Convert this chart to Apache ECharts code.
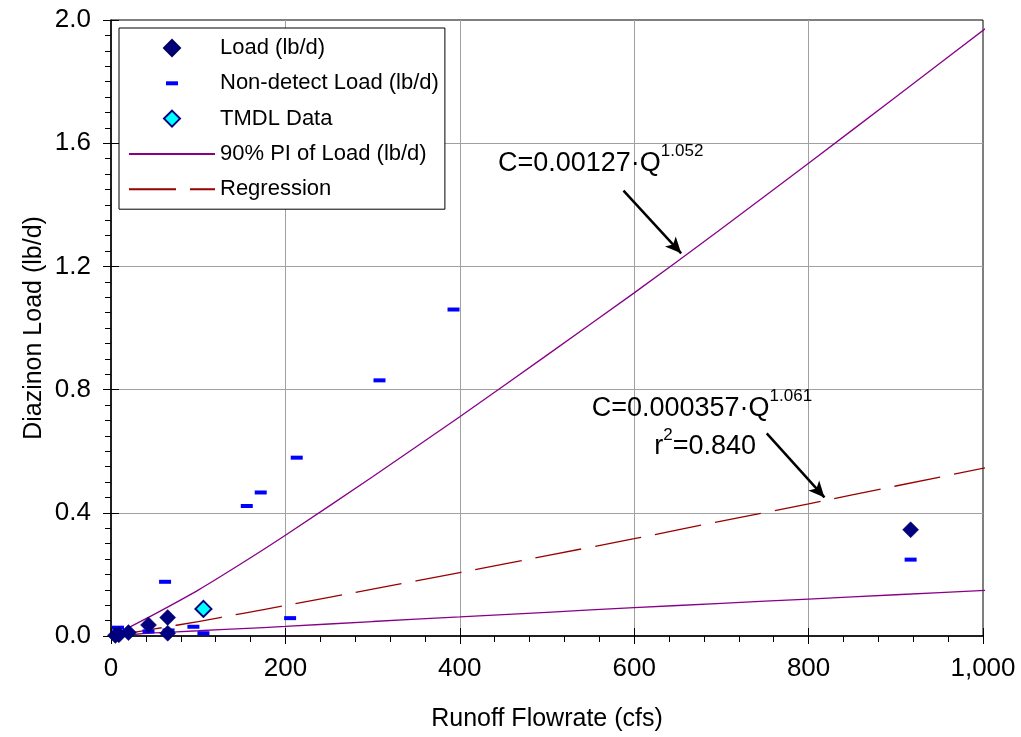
<!DOCTYPE html>
<html>
<head>
<meta charset="utf-8">
<title>Diazinon Load vs Runoff Flowrate</title>
<script src="https://cdn.jsdelivr.net/npm/echarts@6/dist/echarts.min.js"></script>
<style>
  html, body { margin: 0; padding: 0; background: #ffffff; }
  #chart { width: 1021px; height: 737px; }
</style>
</head>
<body>
<div id="chart"></div>
<script>
const FONT = "'Liberation Sans', Arial, Helvetica, sans-serif";

// Measured diazinon loads (lb/d) against runoff flowrate (cfs)
const loadQ = [5, 9, 20, 43, 65, 65, 917];
const loadC = [0.002, 0.004, 0.011, 0.036, 0.060, 0.009, 0.345];

// Non-detect samples, plotted at the reporting-limit load
const nonDetectQ = [8, 16, 43, 62, 66, 94.5, 106, 155.7, 171.7, 205.4, 213, 307.9, 392.8, 917];
const nonDetectC = [0.027, 0.012, 0.015, 0.176, 0.018, 0.030, 0.009, 0.422, 0.466, 0.058, 0.579, 0.830, 1.060, 0.248];

// TMDL sample
const tmdlQ = [106];
const tmdlC = [0.088];

// Fitted curves sampled along the flowrate range
const curveQ     = [5, 10, 20, 50, 100, 150, 200, 300, 400, 500, 600, 700, 800, 900, 1010];
const piUpper    = [0.006, 0.013, 0.027, 0.071, 0.149, 0.236, 0.327, 0.517, 0.712, 0.912, 1.114, 1.322, 1.535, 1.750, 1.988];
const piLower    = [0.001, 0.002, 0.004, 0.010, 0.017, 0.024, 0.031, 0.047, 0.062, 0.077, 0.092, 0.106, 0.120, 0.134, 0.149];
const regression = [0.002, 0.004, 0.009, 0.023, 0.047, 0.073, 0.099, 0.152, 0.206, 0.261, 0.316, 0.373, 0.429, 0.487, 0.550];

// Axis ranges
const xMin = 0, xMax = 1000, xStep = 200;
const yMin = 0, yMax = 2.0, yStep = 0.4;

// Callout arrows: [start, end] in data units
const upperArrow = [[587.7, 1.446], [653.9, 1.2425]];
const regArrow   = [[752, 0.658], [818.2, 0.450]];

const pairs = (xs, ys) => xs.map((x, i) => [x, ys[i]]);

// Legend icons: leading moveTo points pad the path box to the full item size
const ICON_DIAMOND = 'path://M0,0M86,16M43,0L51,8L43,16L35,8Z';
const ICON_DASH = 'path://M0,0M86,16M37,6h12v4h-12z';

const PURPLE = '#880088';
const DARKRED = '#990000';

const chart = echarts.init(document.getElementById('chart'), null, { renderer: 'canvas' });

const axisCommon = {
  nameLocation: 'middle',
  nameMoveOverlap: false,
  nameTextStyle: { fontFamily: FONT, fontSize: 25, color: '#000' },
  axisLine: { show: true, onZero: false, lineStyle: { color: '#000', width: 1.5 } },
  axisTick: { show: true, inside: false, length: 8, lineStyle: { color: '#000', width: 1 } },
  minorTick: { show: true, length: 6, lineStyle: { color: '#000', width: 1 } },
  splitLine: { show: true, showMinLine: false, showMaxLine: false, lineStyle: { color: '#a0a0a0', width: 1 } },
  axisLabel: { fontFamily: FONT, fontSize: 26, color: '#000' }
};

// Companion axes that only carry the inward half of the major ticks
const innerTickAxis = (min, max, interval) => ({
  type: 'value', min, max, interval,
  axisLine: { show: false, onZero: false },
  axisTick: { show: true, inside: true, length: 8, lineStyle: { color: '#000', width: 1 } },
  axisLabel: { show: false },
  splitLine: { show: false },
  minorTick: { show: false }
});

const lineLegendItem = name => ({ name, itemStyle: { opacity: 0 } });

const option = {
  animation: false,
  backgroundColor: '#ffffff',
  grid: {
    left: 111, right: 38, top: 20, bottom: 101,
    show: true, borderColor: '#000', borderWidth: 1,
    containLabel: false, outerBoundsMode: 'none'
  },
  xAxis: [
    Object.assign({}, axisCommon, {
      type: 'value', min: xMin, max: xMax, interval: xStep, position: 'bottom',
      name: 'Runoff Flowrate (cfs)', nameGap: 71,
      minorTick: Object.assign({}, axisCommon.minorTick, { splitNumber: 5 }),
      axisLabel: Object.assign({}, axisCommon.axisLabel, {
        margin: 20,
        formatter: v => v.toLocaleString('en-US')
      })
    }),
    Object.assign(innerTickAxis(xMin, xMax, xStep), { position: 'bottom', offset: 0 })
  ],
  yAxis: [
    Object.assign({}, axisCommon, {
      type: 'value', min: yMin, max: yMax, interval: yStep, position: 'left',
      name: 'Diazinon Load (lb/d)', nameGap: 64,
      minorTick: Object.assign({}, axisCommon.minorTick, { splitNumber: 8 }),
      axisLabel: Object.assign({}, axisCommon.axisLabel, {
        margin: 20,
        formatter: v => v.toFixed(1)
      })
    }),
    Object.assign(innerTickAxis(yMin, yMax, yStep), { position: 'left', offset: 0 })
  ],
  legend: {
    orient: 'vertical',
    left: 119, top: 28,
    padding: [9, 6, 9, 9],
    itemWidth: 86, itemHeight: 16, itemGap: 13.3,
    backgroundColor: '#ffffff',
    borderColor: '#000', borderWidth: 1, borderRadius: 0,
    selectedMode: false,
    textStyle: { fontFamily: FONT, fontSize: 22, color: '#000' },
    data: [
      { name: 'Load (lb/d)', icon: ICON_DIAMOND },
      { name: 'Non-detect Load (lb/d)', icon: ICON_DASH },
      { name: 'TMDL Data', icon: ICON_DIAMOND },
      lineLegendItem('90% PI of Load (lb/d)'),
      lineLegendItem('Regression')
    ]
  },
  series: [
    {
      name: '90% PI of Load (lb/d)', type: 'line', data: pairs(curveQ, piUpper),
      symbol: 'none', showSymbol: false, clip: false, smooth: 0.25, z: 2,
      lineStyle: { color: PURPLE, width: 1.3 }, itemStyle: { color: PURPLE },
      markLine: {
        silent: true, symbol: ['none', 'arrow'], symbolSize: [11, 16],
        label: { show: false },
        lineStyle: { color: '#000', width: 2.5, type: 'solid' },
        data: [[{ coord: upperArrow[0] }, { coord: upperArrow[1] }]]
      }
    },
    {
      name: '90% PI of Load (lb/d)', type: 'line', data: pairs(curveQ, piLower),
      symbol: 'none', showSymbol: false, clip: false, smooth: 0.25, z: 2,
      lineStyle: { color: PURPLE, width: 1.3 }, itemStyle: { color: PURPLE }
    },
    {
      name: 'Regression', type: 'line', data: pairs(curveQ, regression),
      symbol: 'none', showSymbol: false, clip: false, smooth: 0.25, z: 2,
      lineStyle: { color: DARKRED, width: 1.3, type: [47, 14] }, itemStyle: { color: DARKRED },
      markLine: {
        silent: true, symbol: ['none', 'arrow'], symbolSize: [11, 16],
        label: { show: false },
        lineStyle: { color: '#000', width: 2.5, type: 'solid' },
        data: [[{ coord: regArrow[0] }, { coord: regArrow[1] }]]
      }
    },
    {
      name: 'Non-detect Load (lb/d)', type: 'scatter', data: pairs(nonDetectQ, nonDetectC),
      symbol: 'rect', symbolSize: [12, 4], clip: false, z: 3,
      itemStyle: { color: '#0000ff', opacity: 1 }
    },
    {
      name: 'Load (lb/d)', type: 'scatter', data: pairs(loadQ, loadC),
      symbol: 'diamond', symbolSize: 16, clip: false, z: 4,
      itemStyle: { color: '#000080', borderColor: '#00005a', borderWidth: 0.5, opacity: 1 }
    },
    {
      name: 'TMDL Data', type: 'scatter', data: pairs(tmdlQ, tmdlC),
      symbol: 'diamond', symbolSize: 16, clip: false, z: 5,
      itemStyle: { color: '#00ffff', borderColor: '#000080', borderWidth: 2, opacity: 1 }
    }
  ],
  graphic: [
    {
      type: 'text', x: 498, y: 176.8, z: 10,
      style: {
        text: '{m|C=0.00127·Q}{s|1.052}',
        align: 'left', verticalAlign: 'bottom', fill: '#000',
        rich: {
          m: { fontFamily: FONT, fontSize: 27, lineHeight: 27, verticalAlign: 'bottom', fill: '#000' },
          s: { fontFamily: FONT, fontSize: 17, lineHeight: 17, verticalAlign: 'bottom', padding: [0, 0, 17, 0], fill: '#000' }
        }
      }
    },
    {
      type: 'text', x: 591.7, y: 421.8, z: 10,
      style: {
        text: '{m|C=0.000357·Q}{s|1.061}',
        align: 'left', verticalAlign: 'bottom', fill: '#000',
        rich: {
          m: { fontFamily: FONT, fontSize: 27, lineHeight: 27, verticalAlign: 'bottom', fill: '#000' },
          s: { fontFamily: FONT, fontSize: 17, lineHeight: 17, verticalAlign: 'bottom', padding: [0, 0, 17, 0], fill: '#000' }
        }
      }
    },
    {
      type: 'text', x: 654.3, y: 460.1, z: 10,
      style: {
        text: '{m|r}{s|2}{m|=0.840}',
        align: 'left', verticalAlign: 'bottom', fill: '#000',
        rich: {
          m: { fontFamily: FONT, fontSize: 27, lineHeight: 27, verticalAlign: 'bottom', fill: '#000' },
          s: { fontFamily: FONT, fontSize: 17, lineHeight: 17, verticalAlign: 'bottom', padding: [0, 0, 16, 0], fill: '#000' }
        }
      }
    }
  ]
};

chart.setOption(option);
</script>
</body>
</html>
